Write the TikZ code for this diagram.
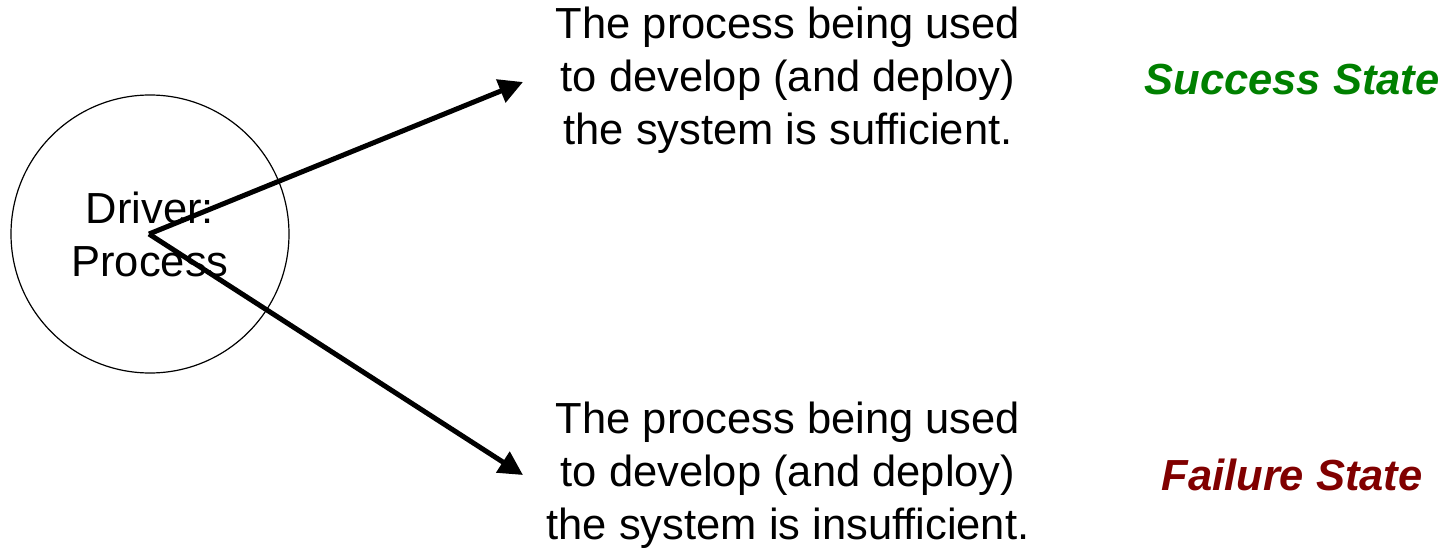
\documentclass[tikz,border=0pt]{standalone}
\usepackage{fontspec}
\setmainfont{Liberation Sans}
\usetikzlibrary{arrows.meta}
\definecolor{succgreen}{HTML}{008000}
\definecolor{failred}{HTML}{800000}
\begin{document}
\begin{tikzpicture}[x=1pt,y=-1pt,
  txt/.style={align=center,font=\fontsize{43.5}{53}\selectfont,inner sep=0pt},
  statelbl/.style={font=\fontsize{43.5}{53}\selectfont\bfseries\itshape,inner sep=0pt},
  driverarrow/.style={line width=5pt,-{Triangle[length=24pt,width=24pt]}}]
\useasboundingbox (0,0) rectangle (1447,551);
% driver circle and label
\node[draw,circle,line width=1.2pt,minimum size=278pt,inner sep=0pt] (drv) at (150,234) {};
\node[txt] (drvlbl) at (150,234) {Driver:\\Process};
% origin of the two outcome arrows
\coordinate (orig) at (149,234);
\coordinate (tipA) at (523,82);
\coordinate (tipB) at (523,475);
\draw[driverarrow] (orig) -- (tipA);
\draw[driverarrow] (orig) -- (tipB);
% outcome texts
\node[txt] (ok) at (788,80) {The process being used\\to develop (and deploy)\\the system is sufficient.};
\node[txt] (bad) at (788,475) {The process being used\\to develop (and deploy)\\the system is insufficient.};
% state labels
\node[statelbl,text=succgreen] (succ) at (1292,80) {Success State};
\node[statelbl,text=failred] (fail) at (1292,475) {Failure State};
\end{tikzpicture}
\end{document}
